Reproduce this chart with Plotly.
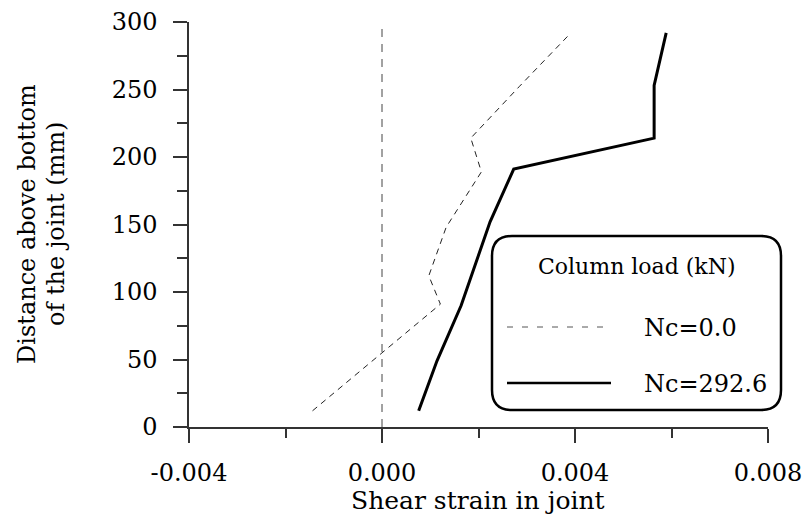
import plotly.graph_objects as go

# ---- data ----
strain_nc0 = [-0.00144, 0.00000, 0.00121, 0.00097, 0.00133, 0.00206, 0.00184, 0.00284, 0.00389]
height_nc0 = [12, 55, 91, 112, 148, 189, 214, 252, 291]

strain_nc292 = [0.00076, 0.00114, 0.00164, 0.00224, 0.00273, 0.00564, 0.00564, 0.00589]
height_nc292 = [12, 49, 90, 152, 191, 214, 253, 292]

zero_x = [0.0, 0.0]
zero_y = [0, 300]

x_tick_vals = [-0.004, 0.0, 0.004, 0.008]
x_tick_text = ["-0.004", "0.000", "0.004", "0.008"]
x_minor_vals = [-0.002, 0.002, 0.006]
y_tick_vals = [0, 50, 100, 150, 200, 250, 300]
y_tick_text = ["0", "50", "100", "150", "200", "250", "300"]
y_minor_vals = [25, 75, 125, 175, 225, 275]

legend_title = "Column load (kN)"
series_names = ["Nc=0.0", "Nc=292.6"]
x_title = "Shear strain in joint"
y_title_lines = ["Distance above bottom", "of the joint (mm)"]

# ---- layout geometry (pixels) ----
WIDTH, HEIGHT = 803, 515
L, R, T, B = 189, 768, 22, 427
PW, PH = R - L, B - T


def px(x):
    return (x - L) / PW


def py(y):
    return (B - y) / PH


FONT = "DejaVu Serif"
AX = "#333333"

fig = go.Figure()
fig.add_trace(go.Scatter(x=zero_x, y=zero_y, mode="lines",
                         line=dict(color="#444444", width=1, dash="8px,7px"),
                         showlegend=False, hoverinfo="skip"))
fig.add_trace(go.Scatter(x=strain_nc0, y=height_nc0, mode="lines", name=series_names[0],
                         line=dict(color="#222222", width=1, dash="6px,5px"),
                         showlegend=False))
fig.add_trace(go.Scatter(x=strain_nc292, y=height_nc292, mode="lines", name=series_names[1],
                         line=dict(color="black", width=3),
                         showlegend=False))

# ---- custom rounded legend box ----
bx0, bx1, by0, by1, rad = 492, 781, 236, 410, 20
path = (f"M {px(bx0 + rad)} {py(by0)} L {px(bx1 - rad)} {py(by0)} "
        f"Q {px(bx1)} {py(by0)} {px(bx1)} {py(by0 + rad)} "
        f"L {px(bx1)} {py(by1 - rad)} Q {px(bx1)} {py(by1)} {px(bx1 - rad)} {py(by1)} "
        f"L {px(bx0 + rad)} {py(by1)} Q {px(bx0)} {py(by1)} {px(bx0)} {py(by1 - rad)} "
        f"L {px(bx0)} {py(by0 + rad)} Q {px(bx0)} {py(by0)} {px(bx0 + rad)} {py(by0)} Z")
shapes = [
    dict(type="path", xref="paper", yref="paper", path=path,
         line=dict(color="black", width=2.5), fillcolor="white", layer="above"),
    dict(type="line", xref="paper", yref="paper", x0=px(507), x1=px(608), y0=py(327), y1=py(327),
         line=dict(color="#555555", width=1, dash="6px,9px"), layer="above"),
    dict(type="line", xref="paper", yref="paper", x0=px(507), x1=px(611), y0=py(383), y1=py(383),
         line=dict(color="black", width=2.5), layer="above"),
]


def ann(text, x, y, size, xanchor="center", angle=0, family=FONT):
    return dict(text=text, xref="paper", yref="paper", x=px(x), y=py(y),
                xanchor=xanchor, yanchor="middle", showarrow=False, textangle=angle,
                font=dict(family=family, size=size, color="black"))


annotations = [
    ann(legend_title, 637, 266, 22),
    ann(series_names[0], 642, 328, 24, xanchor="left"),
    ann(series_names[1], 642, 384, 24, xanchor="left"),
    ann(x_title, 478, 500, 25),
    ann(y_title_lines[0], 27, 224, 24, angle=-90),
    ann(y_title_lines[1], 56, 224, 24, angle=-90),
]

fig.update_layout(
    width=WIDTH, height=HEIGHT,
    margin=dict(l=L, r=WIDTH - R, t=T, b=HEIGHT - B, autoexpand=False),
    paper_bgcolor="white", plot_bgcolor="white",
    font=dict(family=FONT, size=24, color="black"),
    shapes=shapes, annotations=annotations, showlegend=False,
)
fig.update_xaxes(range=[-0.004, 0.008], tickmode="array", tickvals=x_tick_vals, ticktext=x_tick_text,
                 ticks="outside", ticklen=14, tickwidth=1.5, tickcolor=AX,
                 showline=True, linecolor=AX, linewidth=1.5, showgrid=False, zeroline=False,
                 ticklabelstandoff=9,
                 minor=dict(tickvals=x_minor_vals, ticks="outside", ticklen=9, tickwidth=1.5,
                            tickcolor=AX, showgrid=False),
                 tickfont=dict(family=FONT, size=24, color="black"))
fig.update_yaxes(range=[0, 300], tickmode="array", tickvals=y_tick_vals, ticktext=y_tick_text,
                 ticks="outside", ticklen=14, tickwidth=1.5, tickcolor=AX,
                 showline=True, linecolor=AX, linewidth=1.5, showgrid=False, zeroline=False,
                 ticklabelstandoff=11,
                 minor=dict(tickvals=y_minor_vals, ticks="outside", ticklen=10, tickwidth=1.5,
                            tickcolor=AX, showgrid=False),
                 tickfont=dict(family=FONT, size=24, color="black"))

fig.write_html("out.html")
